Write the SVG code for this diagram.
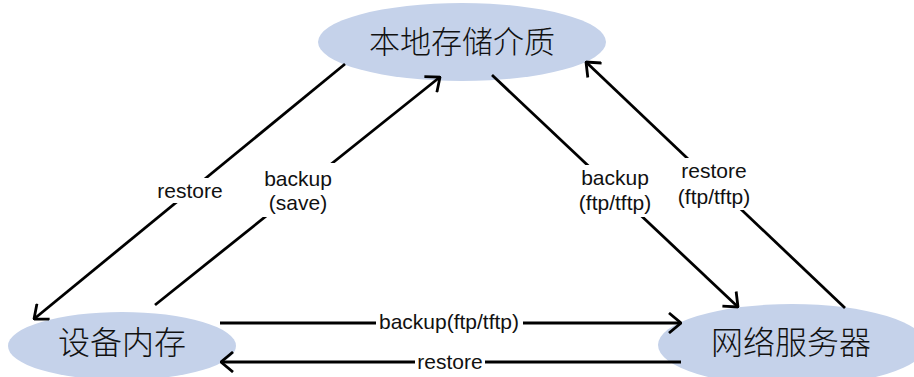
<svg xmlns="http://www.w3.org/2000/svg" width="914" height="377" viewBox="0 0 914 377">
  <style>
    .node { fill: #c5d2ea; stroke: none; }
    .ntext { font-family: "Noto Sans CJK SC", "Noto Sans", sans-serif; font-size: 32px; font-weight: 300; fill: #111; text-anchor: middle; }
    .edge { stroke: #000; stroke-width: 2.8; fill: none; marker-end: url(#arrow); }
    .lbg { fill: #fff; stroke: none; }
    .lbl { font-family: "Liberation Sans", Arial, sans-serif; font-size: 21px; fill: #111; text-anchor: middle; }
  </style>
  <defs>
    <marker id="arrow" viewBox="0 0 14 22" markerWidth="14" markerHeight="22" refX="13" refY="11" orient="auto" markerUnits="userSpaceOnUse">
      <path d="M1,1 L13,11 L1,21" fill="none" stroke="#000" stroke-width="2.8"/>
    </marker>
  </defs>
  <rect width="914" height="377" fill="#fff"/>

  <g id="node-local">
    <ellipse class="node" cx="462" cy="42" rx="144" ry="39"/>
    <text class="ntext" x="462" y="53" style="font-size:31px">本地存储介质</text>
  </g>
  <g id="node-memory">
    <ellipse class="node" cx="122" cy="346" rx="114" ry="34"/>
    <text class="ntext" x="122" y="354">设备内存</text>
  </g>
  <g id="node-server">
    <ellipse class="node" cx="792" cy="345" rx="134" ry="41"/>
    <text class="ntext" x="791" y="354">网络服务器</text>
  </g>

  <g id="connectors">
    <line class="edge" x1="345" y1="64" x2="34" y2="319"/>
    <line class="edge" x1="155" y1="305" x2="440" y2="77"/>
    <line class="edge" x1="492" y1="75" x2="738" y2="307"/>
    <line class="edge" x1="845" y1="308" x2="586" y2="62"/>
    <line class="edge" x1="220" y1="323" x2="681" y2="323"/>
    <line class="edge" x1="681" y1="362" x2="221" y2="362"/>
  </g>

  <g id="labels">
    <rect class="lbg" x="155" y="178" width="70" height="25"/>
    <text class="lbl" x="190" y="198">restore</text>
    <rect class="lbg" x="262" y="163" width="74" height="54"/>
    <text class="lbl" x="298" y="186">backup</text>
    <text class="lbl" x="298" y="210">(save)</text>
    <rect class="lbg" x="578" y="165" width="77" height="52"/>
    <text class="lbl" x="615" y="185">backup</text>
    <text class="lbl" x="615" y="210">(ftp/tftp)</text>
    <rect class="lbg" x="676" y="158" width="78" height="52"/>
    <text class="lbl" x="714" y="178">restore</text>
    <text class="lbl" x="714" y="204">(ftp/tftp)</text>
    <rect class="lbg" x="376" y="312" width="147" height="22"/>
    <text class="lbl" x="449" y="329">backup(ftp/tftp)</text>
    <rect class="lbg" x="415" y="351" width="70" height="22"/>
    <text class="lbl" x="450" y="369">restore</text>
  </g>
</svg>
